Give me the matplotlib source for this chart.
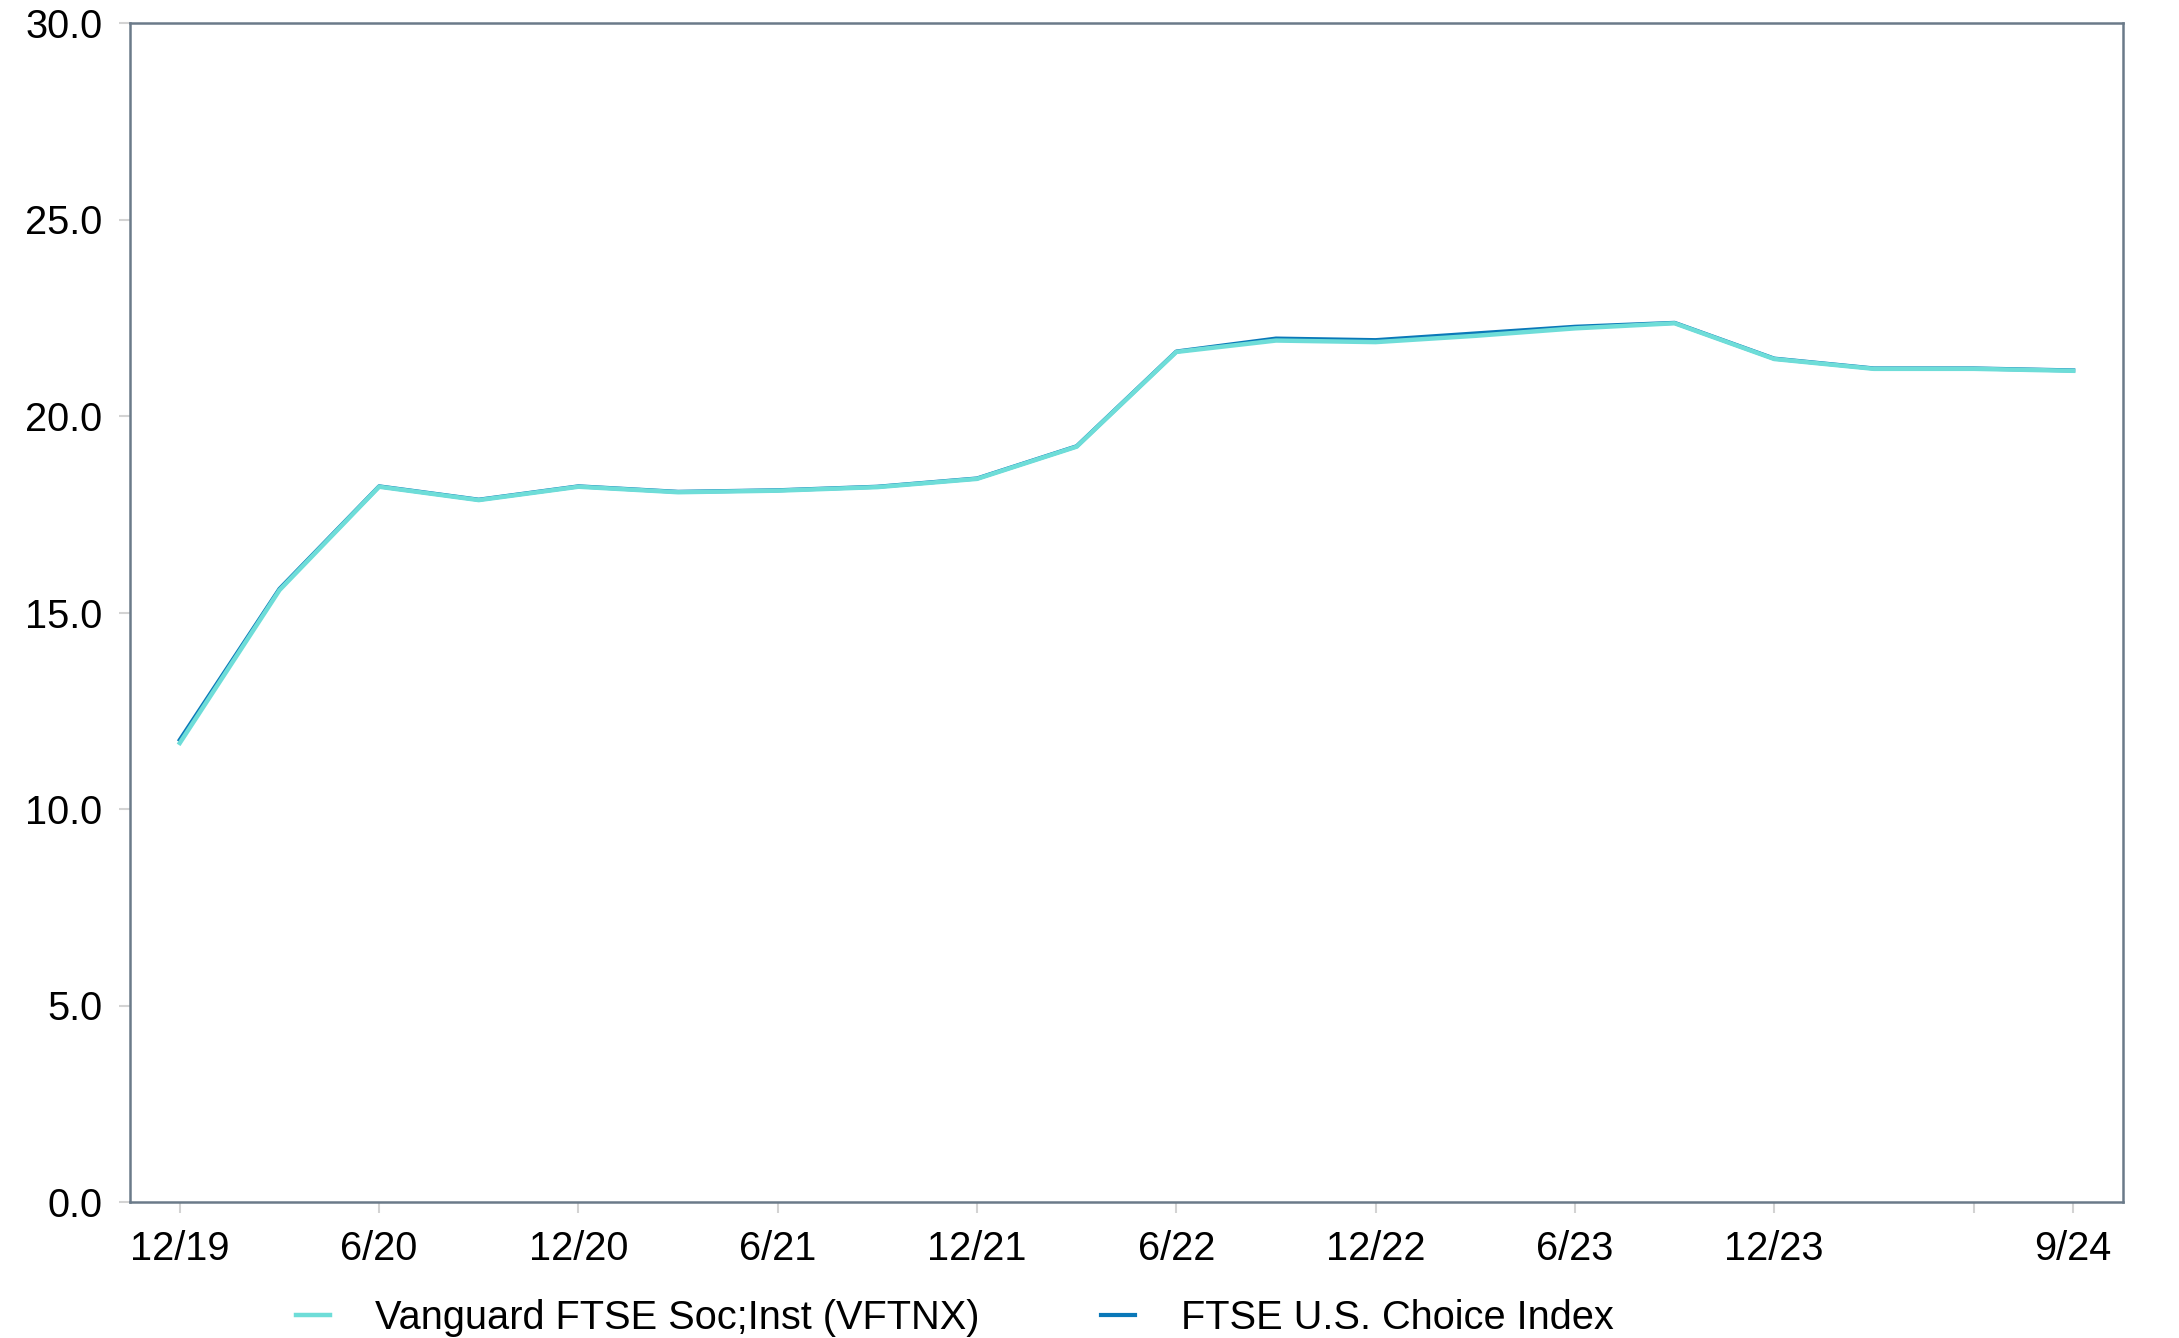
import matplotlib.pyplot as plt
import numpy as np

# quarterly data, 12/19 .. 9/24
quarters = ["12/19", "3/20", "6/20", "9/20", "12/20", "3/21", "6/21", "9/21",
            "12/21", "3/22", "6/22", "9/22", "12/22", "3/23", "6/23", "9/23",
            "12/23", "3/24", "6/24", "9/24"]
fund = [11.68, 15.57, 18.20, 17.86, 18.20, 18.06, 18.10, 18.19, 18.40, 19.22,
        21.63, 21.92, 21.88, 22.04, 22.23, 22.36, 21.45, 21.20, 21.20, 21.15]
index = [11.76, 15.60, 18.21, 17.87, 18.21, 18.07, 18.11, 18.20, 18.41, 19.23,
         21.64, 21.97, 21.93, 22.10, 22.27, 22.37, 21.46, 21.21, 21.21, 21.16]
tick_labels = ["12/19", "", "6/20", "", "12/20", "", "6/21", "", "12/21", "",
               "6/22", "", "12/22", "", "6/23", "", "12/23", "", "", "9/24"]
tick_idx = [0, 2, 4, 6, 8, 10, 12, 14, 16, 18, 19]

plt.rcParams["font.family"] = ["Liberation Sans", "DejaVu Sans"]

FUND_COLOR = "#6EDDD8"
INDEX_COLOR = "#0A78B8"
SPINE_COLOR = "#6B7A89"
TICK_COLOR = "#D3D3D3"
FS = 28.6

fig = plt.figure(figsize=(21.79, 13.38), dpi=100)
ax = fig.add_axes([130 / 2179, 136 / 1338, (2123 - 130) / 2179, (1202 - 23) / 1338])

x = np.arange(len(quarters))
ax.plot(x, index, color=INDEX_COLOR, linewidth=3.0, label="FTSE U.S. Choice Index")
ax.plot(x, fund, color=FUND_COLOR, linewidth=3.2, label="Vanguard FTSE Soc;Inst (VFTNX)")

ax.set_xlim(-0.5, len(quarters) - 0.5)
ax.set_ylim(0, 30)
ax.set_yticks(np.arange(0, 30.1, 5))
ax.set_yticklabels([f"{v:.1f}" for v in np.arange(0, 30.1, 5)])
ax.set_xticks(tick_idx)
ax.set_xticklabels([tick_labels[i] for i in tick_idx])

ax.tick_params(axis="both", labelsize=FS, colors=TICK_COLOR, labelcolor="black",
               length=8, width=1.5)
ax.tick_params(axis="x", pad=12)
ax.tick_params(axis="y", pad=12)

for s in ax.spines.values():
    s.set_color(SPINE_COLOR)
    s.set_linewidth(1.8)

handles, labels = ax.get_legend_handles_labels()
fig.legend(handles[::-1], labels[::-1], loc="center left",
           bbox_to_anchor=(296 / 2179, 1 - 1318 / 1338), ncol=2, frameon=False,
           fontsize=FS, handlelength=0.85, handletextpad=1.15, columnspacing=3.05,
           borderpad=0, borderaxespad=0)

fig.savefig("out.png", dpi=100)
